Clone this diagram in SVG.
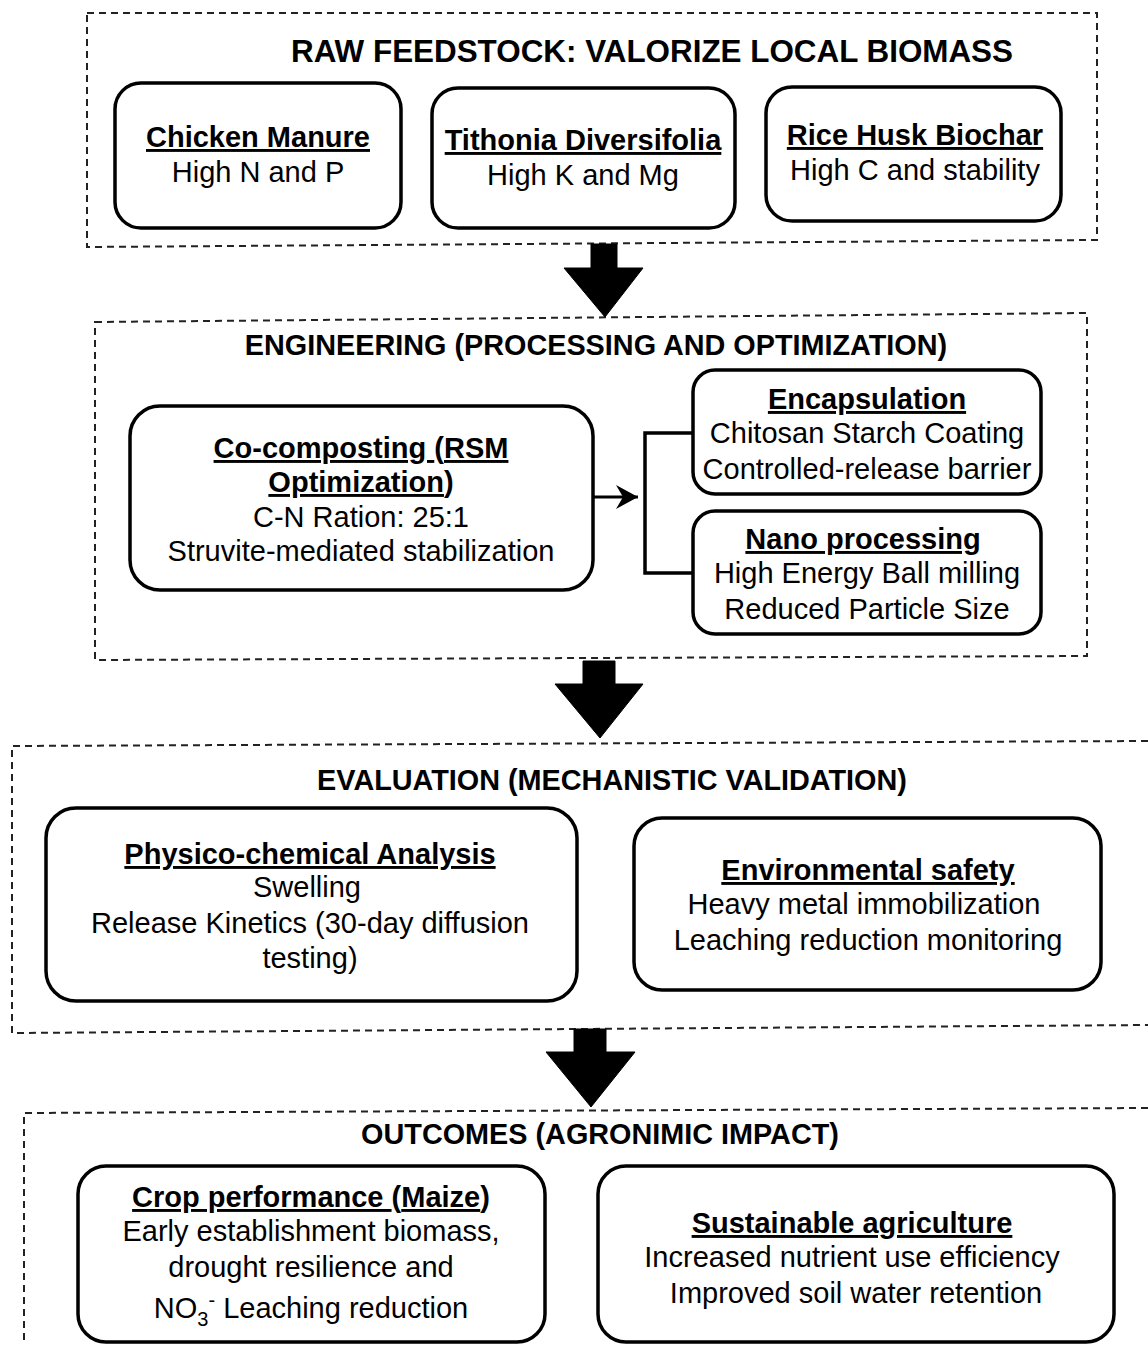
<svg xmlns="http://www.w3.org/2000/svg" width="1148" height="1345" viewBox="0 0 1148 1345">
<style>
.sec{fill:none;stroke:#222;stroke-width:2;stroke-dasharray:7 5}
.box{fill:#fff;stroke:#000;stroke-width:3.5}
.t{font-family:"Liberation Sans",Arial,sans-serif;font-size:29px;fill:#000;text-anchor:middle}
.b{font-weight:bold}
.u{text-decoration:underline}
.h{font-family:"Liberation Sans",Arial,sans-serif;font-size:28.8px;font-weight:bold;fill:#000;text-anchor:middle}
.ar{fill:#000;stroke:#000;stroke-width:1}
.ln{fill:none;stroke:#000;stroke-width:3.5}
</style>
<defs>
<marker id="ah" markerWidth="24" markerHeight="26" refX="22" refY="12" orient="auto" markerUnits="userSpaceOnUse">
<path d="M0,0 L22,12 L0,24 L7,12 Z" fill="#000"/>
</marker>
</defs>
<g id="sections">
<path id="sec-raw" class="sec" d="M87,13 L1097,13 L1097,240 L87,247 Z"/>
<path id="sec-eng" class="sec" d="M95,322 L1087,313 L1087,656 L95,660 Z"/>
<path id="sec-eval" class="sec" d="M1148,741 L12,746 L12,1033 L1148,1025"/>
<path id="sec-out" class="sec" d="M1148,1108 L24,1113 L24,1345"/>
</g>
<text class="h" x="652" y="62" style="font-size:31.4px">RAW FEEDSTOCK: VALORIZE LOCAL BIOMASS</text>
<text class="h" x="596" y="355">ENGINEERING (PROCESSING AND OPTIMIZATION)</text>
<text class="h" x="612" y="790">EVALUATION (MECHANISTIC VALIDATION)</text>
<text class="h" x="600" y="1144">OUTCOMES (AGRONIMIC IMPACT)</text>

<g id="n-chicken">
<rect class="box" x="115" y="83" width="286" height="145" rx="26"/>
<text class="t b u" x="258" y="147">Chicken Manure</text>
<text class="t" x="258" y="182">High N and P</text>
</g>
<g id="n-tithonia">
<rect class="box" x="432" y="88" width="303" height="140" rx="26"/>
<text class="t b u" x="583" y="150">Tithonia Diversifolia</text>
<text class="t" x="583" y="185">High K and Mg</text>
</g>
<g id="n-rice">
<rect class="box" x="766" y="87" width="295" height="134" rx="26"/>
<text class="t b u" x="915" y="145">Rice Husk Biochar</text>
<text class="t" x="915" y="180">High C and stability</text>
</g>

<g id="n-cocomp">
<rect class="box" x="130" y="406" width="463" height="184" rx="30"/>
<text class="t b" x="361" y="458"><tspan class="u">Co-composting </tspan>(<tspan class="u">RSM</tspan></text>
<text class="t b" x="361" y="492"><tspan class="u">Optimization</tspan>)</text>
<text class="t" x="361" y="527">C-N Ration: 25:1</text>
<text class="t" x="361" y="561">Struvite-mediated stabilization</text>
</g>
<g id="n-encap">
<rect class="box" x="693" y="370" width="348" height="124" rx="22"/>
<text class="t b u" x="867" y="409">Encapsulation</text>
<text class="t" x="867" y="443">Chitosan Starch Coating</text>
<text class="t" x="867" y="479">Controlled-release barrier</text>
</g>
<g id="n-nano">
<rect class="box" x="693" y="511" width="348" height="123" rx="22"/>
<text class="t b u" x="863" y="549">Nano processing</text>
<text class="t" x="867" y="583">High Energy Ball milling</text>
<text class="t" x="867" y="619">Reduced Particle Size</text>
</g>

<g id="n-physico">
<rect class="box" x="46" y="808" width="531" height="193" rx="30"/>
<text class="t b u" x="310" y="864">Physico-chemical Analysis </text>
<text class="t" x="307" y="897">Swelling</text>
<text class="t" x="310" y="933">Release Kinetics (30-day diffusion</text>
<text class="t" x="310" y="968">testing)</text>
</g>
<g id="n-env">
<rect class="box" x="634" y="818" width="467" height="172" rx="28"/>
<text class="t b u" x="868" y="880">Environmental safety </text>
<text class="t" x="864" y="914">Heavy metal immobilization</text>
<text class="t" x="868" y="950">Leaching reduction monitoring</text>
</g>

<g id="n-crop">
<rect class="box" x="78" y="1166" width="467" height="176" rx="28"/>
<text class="t b" x="311" y="1207"><tspan class="u">Crop performance </tspan>(<tspan class="u">Maize</tspan>)</text>
<text class="t" x="311" y="1241">Early establishment biomass,</text>
<text class="t" x="311" y="1277">drought resilience and</text>
<text class="t" x="311" y="1318">NO<tspan dy="8" style="font-size:20px">3</tspan><tspan dy="-19" style="font-size:20px">-</tspan><tspan dy="11"> Leaching reduction</tspan></text>
</g>
<g id="n-sust">
<rect class="box" x="598" y="1166" width="516" height="176" rx="28"/>
<text class="t b u" x="852" y="1233">Sustainable agriculture</text>
<text class="t" x="852" y="1267">Increased nutrient use efficiency</text>
<text class="t" x="856" y="1303">Improved soil water retention</text>
</g>

<g id="connectors">
<polygon class="ar" points="591,244 617,244 617,268 643,268 605,317 564,268 591,268"/>
<polygon class="ar" points="583,661 615,661 615,684 643,684 600,738 555,684 583,684"/>
<polygon class="ar" points="574,1029 606,1029 606,1052 635,1052 591,1107 546,1052 574,1052"/>
<line class="ln" x1="593" y1="497" x2="638" y2="497" marker-end="url(#ah)" style="stroke-width:3"/>
<polyline class="ln" points="693,433 645,433 645,573 693,573"/>
</g>
</svg>
